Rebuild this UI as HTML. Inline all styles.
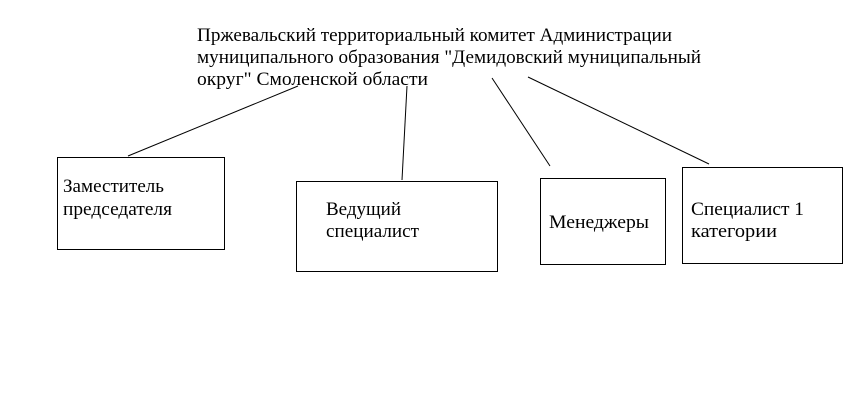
<!DOCTYPE html>
<html><head><meta charset="utf-8"><style>
html,body{margin:0;padding:0;background:#fff;width:865px;height:409px;overflow:hidden}
svg{display:block}
text{font-family:"Liberation Serif",serif;font-size:19px;fill:#000}
</style></head><body>
<svg width="865" height="409" viewBox="0 0 865 409">
<g fill="none" stroke="#000" stroke-width="1">
<rect x="57.5" y="157.5" width="167" height="92"/>
<rect x="296.5" y="181.5" width="201" height="90"/>
<rect x="540.5" y="178.5" width="125" height="86"/>
<rect x="682.5" y="167.5" width="160" height="96"/>
<line x1="298" y1="86" x2="128" y2="156"/>
<line x1="407" y1="86" x2="402" y2="180"/>
<line x1="492" y1="78" x2="550" y2="166"/>
<line x1="528" y1="77" x2="709" y2="164"/>
</g>
<g lengthAdjust="spacingAndGlyphs">
<text x="197" y="41" textLength="475" lengthAdjust="spacingAndGlyphs">Пржевальский территориальный комитет Администрации</text>
<text x="197" y="63" textLength="504" lengthAdjust="spacingAndGlyphs">муниципального образования "Демидовский муниципальный</text>
<text x="197" y="85" textLength="231" lengthAdjust="spacingAndGlyphs">округ" Смоленской области</text>
<text x="63" y="192" textLength="101" lengthAdjust="spacingAndGlyphs">Заместитель</text>
<text x="63" y="215" textLength="109" lengthAdjust="spacingAndGlyphs">председателя</text>
<text x="326" y="215" textLength="75" lengthAdjust="spacingAndGlyphs">Ведущий</text>
<text x="326" y="237" textLength="93" lengthAdjust="spacingAndGlyphs">специалист</text>
<text x="549" y="228" textLength="100" lengthAdjust="spacingAndGlyphs">Менеджеры</text>
<text x="691" y="215" textLength="113" lengthAdjust="spacingAndGlyphs">Специалист 1</text>
<text x="691" y="237" textLength="86" lengthAdjust="spacingAndGlyphs">категории</text>
</g>
</svg>
</body></html>
